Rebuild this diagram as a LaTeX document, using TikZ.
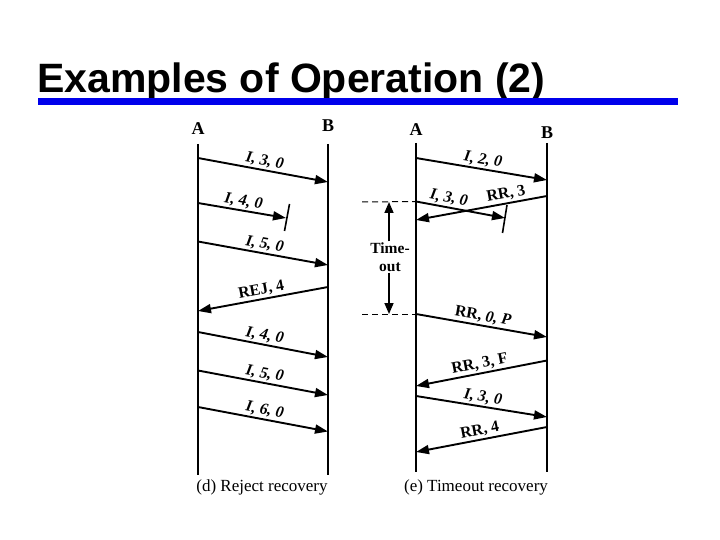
\documentclass[tikz,border=0pt]{standalone}
\usepackage{fontspec}
\setmainfont{Liberation Serif}
\newfontfamily\titlefont{Liberation Sans}
\usetikzlibrary{arrows.meta}
\definecolor{barblue}{RGB}{0,0,235}
\begin{document}
\begin{tikzpicture}[x=1pt,y=-1pt,
  life/.style={line width=1.9pt},
  msg/.style={line width=1.9pt,-{Triangle[length=13pt,width=9pt]}},
  lbl/.style={font=\fontsize{16}{16}\selectfont\bfseries, sloped, above, midway, inner sep=1.5pt},
  endlbl/.style={font=\fontsize{18}{18}\selectfont\bfseries},
  captext/.style={font=\fontsize{17}{17}\selectfont},
  lossmark/.style={line width=1.6pt},
  dashline/.style={line width=1pt, dash pattern=on 6pt off 4pt},
  tout/.style={line width=1.6pt,-{Triangle[length=11pt,width=9pt]}}
]
\useasboundingbox (0,0) rectangle (720,540);
% title
\node[anchor=base west, inner sep=0, font=\titlefont\fontsize{41}{41}\selectfont\bfseries] (title) at (37,93) {Examples of Operation (2)};
\fill[barblue] (38,98.5) rectangle (678,105);

% ---------- (d) Reject recovery ----------
\node[endlbl] (dA) at (198,129) {A};
\node[endlbl] (dB) at (328,126) {B};
\coordinate (dAt) at (198,144);
\coordinate (dAb) at (198,475);
\coordinate (dBt) at (328,144);
\coordinate (dBb) at (328,475);
\draw[life] (dAt) -- (dAb);
\draw[life] (dBt) -- (dBb);

\coordinate (d1s) at (198,158); \coordinate (d1e) at (328,182);
\draw[msg] (d1s) -- (d1e) node[lbl] {\textit{I, 3, 0}};
\coordinate (d2s) at (198,203); \coordinate (d2e) at (286,218);
\draw[msg] (d2s) -- (d2e) node[lbl] {\textit{I, 4, 0}};
\coordinate (d2t1) at (289.5,204); \coordinate (d2t2) at (284.5,231);
\draw[lossmark] (d2t1) -- (d2t2);
\coordinate (d3s) at (198,241.5); \coordinate (d3e) at (328,265);
\draw[msg] (d3s) -- (d3e) node[lbl] {\textit{I, 5, 0}};
\coordinate (d4s) at (328,287); \coordinate (d4e) at (198,311);
\draw[msg] (d4s) -- (d4e) node[lbl] {REJ, 4};
\coordinate (d5s) at (198,332); \coordinate (d5e) at (328,357);
\draw[msg] (d5s) -- (d5e) node[lbl] {\textit{I, 4, 0}};
\coordinate (d6s) at (198,370.5); \coordinate (d6e) at (328,395);
\draw[msg] (d6s) -- (d6e) node[lbl] {\textit{I, 5, 0}};
\coordinate (d7s) at (198,407); \coordinate (d7e) at (328,431.5);
\draw[msg] (d7s) -- (d7e) node[lbl] {\textit{I, 6, 0}};
\node[captext] (dcap) at (262,487) {(d) Reject recovery};

% ---------- (e) Timeout recovery ----------
\node[endlbl] (eA) at (416,130) {A};
\node[endlbl] (eB) at (547,133) {B};
\coordinate (eAt) at (416,143);
\coordinate (eAb) at (416,472);
\coordinate (eBt) at (547,143);
\coordinate (eBb) at (547,472);
\draw[life] (eAt) -- (eAb);
\draw[life] (eBt) -- (eBb);

\coordinate (e1s) at (416,158); \coordinate (e1e) at (547,180);
\draw[msg] (e1s) -- (e1e) node[lbl] {\textit{I, 2, 0}};
\coordinate (e2s) at (416,201.5); \coordinate (e2e) at (505,218);
\draw[msg] (e2s) -- (e2e) node[lbl, pos=0.35] {\textit{I, 3, 0}};
\coordinate (e2t1) at (507,205); \coordinate (e2t2) at (502.5,233);
\draw[lossmark] (e2t1) -- (e2t2);
\coordinate (e3s) at (547,196); \coordinate (e3e) at (416,220);
\draw[msg] (e3s) -- (e3e) node[lbl, pos=0.3] {RR, 3};
\coordinate (e4s) at (416,314); \coordinate (e4e) at (547,337);
\draw[msg] (e4s) -- (e4e) node[lbl] {RR, \textit{0, P}};
\coordinate (e5s) at (547,360.5); \coordinate (e5e) at (416,386);
\draw[msg] (e5s) -- (e5e) node[lbl] {RR, 3, F};
\coordinate (e6s) at (416,396); \coordinate (e6e) at (547,417);
\draw[msg] (e6s) -- (e6e) node[lbl] {\textit{I, 3, 0}};
\coordinate (e7s) at (547,427); \coordinate (e7e) at (416,452);
\draw[msg] (e7s) -- (e7e) node[lbl] {RR, 4};

% timeout
\coordinate (tl1) at (362,202); \coordinate (tl2) at (362,314);
\draw[dashline] (tl1) -- (e2s);
\draw[dashline] (tl2) -- (e4s);
\coordinate (ttop) at (389,202); \coordinate (tbot) at (389,314);
\node[font=\fontsize{15.5}{18}\selectfont\bfseries, align=center, inner sep=1pt] (tt) at (390,257) {Time-\\out};
\draw[tout] (tt.north -| ttop) -- (ttop);
\draw[tout] (tt.south -| tbot) -- (tbot);
\node[captext] (ecap) at (476,487) {(e) Timeout recovery};
\end{tikzpicture}
\end{document}
